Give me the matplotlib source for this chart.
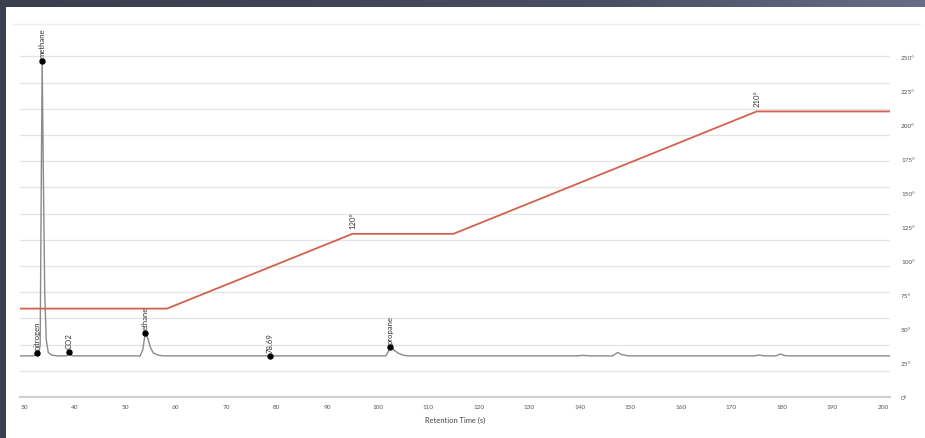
import numpy as np
import matplotlib
matplotlib.use("Agg")
import matplotlib.pyplot as plt
from matplotlib.patches import Rectangle
from matplotlib.lines import Line2D

# Detector trace (retention time in s, signal in arbitrary units)
trace_time = [29.2, 32.0, 32.5, 32.9, 33.2, 33.45, 33.6, 33.8, 34.1, 34.4, 34.8, 35.5, 36.5,
              38.5, 38.9, 39.3, 39.8,
              53.0, 53.5, 54.0, 54.5, 55.0, 55.6, 56.5, 57.5,
              78.69,
              101.6, 102.0, 102.5, 103.2, 104.0, 105.0, 106.0,
              139.5, 140.7, 142.0,
              146.5, 147.5, 148.3, 149.3, 150.0,
              174.5, 175.5, 176.5,
              178.8, 179.7, 180.6, 181.5,
              201.4]
trace_signal = [157, 157, 168, 160, 200, 900, 1282, 900, 400, 220, 170, 160, 157,
                157, 172, 160, 157,
                157, 180, 244, 225, 190, 168, 160, 157,
                157,
                157, 170, 191, 180, 168, 160, 157,
                157, 159, 157,
                157, 170, 162, 158, 157,
                157, 160, 157,
                157, 164, 158, 157,
                157]

# Identified peaks
peak_names = ["nitrogen", "methane", "CO2", "ethane", "78.69", "propane"]
peak_times = [32.5, 33.6, 38.9, 54.0, 78.69, 102.5]
peak_heights = [168, 1282, 172, 244, 157, 191]

# Oven temperature program
temp_time = [29.2, 58.3, 95.0, 115.0, 175.0, 201.4]
temp_value = [65, 65, 120, 120, 210, 210]
setpoint_times = [95.0, 175.0]
setpoint_values = [120, 210]

x_ticks = list(range(30, 201, 10))
temp_ticks = list(range(0, 251, 25))
signal_grid = list(range(0, 1301, 100))

W, H = 925, 439
fig = plt.figure(figsize=(W / 100, H / 100), dpi=100)
fig.patch.set_facecolor("white")

# Dark window frame: gradient strip on top, solid strip on the left
top = fig.add_axes([0, 1 - 8 / H, 1, 8 / H])
grad = np.linspace(0, 1, 256)[None, :]
from matplotlib.colors import LinearSegmentedColormap
frame_cmap = LinearSegmentedColormap.from_list("frame", ["#3a3e4d", "#3f4454", "#4a5064", "#676d86"])
top.imshow(grad, aspect="auto", cmap=frame_cmap, extent=[0, 1, 0, 1])
top.set_axis_off()
fig.patches.append(Rectangle((0, 0), 6 / W, 1, transform=fig.transFigure,
                             facecolor="#3b3f4e", edgecolor="none", zorder=5))

# Faint top border of the chart body
fig.lines.append(Line2D([13 / W, 920 / W], [1 - 25 / H, 1 - 25 / H], transform=fig.transFigure,
                        color="#efefef", lw=1.0))

ax_left, ax_right_px = 20, 890
ax_bottom, ax_top_px = 398, 25
ax = fig.add_axes([ax_left / W, 1 - ax_bottom / H, (ax_right_px - ax_left) / W,
                   (ax_bottom - ax_top_px) / H])
ax.set_facecolor("none")

xlim = (29.21, 201.39)
ax.set_xlim(*xlim)
ax.set_ylim(0, 1424)

for g in signal_grid[1:]:
    ax.axhline(g, color="#e4e4e4", lw=0.9, zorder=0)

ax.plot(trace_time, trace_signal, color="#8a8a8a", lw=1.0, zorder=3)
ax.plot(peak_times, peak_heights, "o", color="black", ms=3.6, zorder=5)
for name, t, h in zip(peak_names, peak_times, peak_heights):
    ax.annotate(name, (t, h), xytext=(0, 3), textcoords="offset points",
                rotation=90, ha="center", va="bottom", fontsize=5.6,
                color="#333333", family="Lato", zorder=6)

for s in ["top", "left", "right"]:
    ax.spines[s].set_visible(False)
ax.spines["bottom"].set_color("#d0d0d0")
ax.spines["bottom"].set_linewidth(1.6)
ax.set_yticks([])
ax.set_xticks(x_ticks)
ax.set_xticklabels([str(v) for v in x_ticks], fontsize=4.6, color="#555555", family="Lato")
ax.tick_params(axis="x", length=0, pad=5)
ax.set_xlabel("Retention Time (s)", fontsize=5.4, color="#444444", family="Lato", labelpad=5)

# Temperature axis on the right
ax2 = ax.twinx()
ax2.set_ylim(0, 274.3)
ax2.set_xlim(*xlim)
ax2.plot(temp_time, temp_value, color="#d4614f", lw=1.3, zorder=4)
for t, v in zip(setpoint_times, setpoint_values):
    ax2.annotate(f"{v}°", (t, v), xytext=(0, 4), textcoords="offset points",
                 rotation=90, ha="center", va="bottom", fontsize=5.6,
                 color="#333333", family="Lato")
for s in ["top", "left", "right", "bottom"]:
    ax2.spines[s].set_visible(False)
ax2.set_yticks(temp_ticks)
ax2.set_yticklabels([f"{v}°" for v in temp_ticks], fontsize=4.6, color="#555555", family="Lato")
ax2.tick_params(axis="y", length=0, pad=8)

fig.savefig("out.png", dpi=100, facecolor="white")
